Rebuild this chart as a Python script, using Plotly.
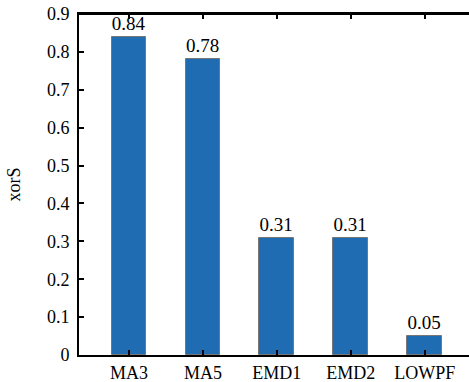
import plotly.graph_objects as go

categories = ["MA3", "MA5", "EMD1", "EMD2", "LOWPF"]
values = [0.84, 0.78, 0.31, 0.31, 0.05]
value_labels = ["0.84", "0.78", "0.31", "0.31", "0.05"]
y_ticks = [0, 0.1, 0.2, 0.3, 0.4, 0.5, 0.6, 0.7, 0.8, 0.9]
y_tick_labels = ["0", "0.1", "0.2", "0.3", "0.4", "0.5", "0.6", "0.7", "0.8", "0.9"]

FAM = "Liberation Serif, Times New Roman, serif"
font = dict(family=FAM, size=18, color="black")
xpos = list(range(len(categories)))
XR = [-0.676, 4.6]

fig = go.Figure()
fig.add_trace(go.Bar(
    x=xpos, y=values,
    width=0.47,
    marker=dict(color="#1f6cb2", line=dict(color="#767676", width=1)),
    text=value_labels, textposition="outside", cliponaxis=False,
    constraintext="none",
    textfont=dict(family=FAM, size=19, color="black"),
))

fig.update_layout(
    width=469, height=382,
    margin=dict(l=79, r=0, t=14, b=27, autoexpand=False),
    plot_bgcolor="white", paper_bgcolor="white",
    font=font, showlegend=False,
    bargap=0,
)
# frame line along the top of the plot area (backup for the mirrored axis line)
fig.add_shape(type="line", xref="paper", yref="paper", x0=0, x1=1, y0=1, y1=1,
              line=dict(color="black", width=2), layer="above")

fig.update_xaxes(
    range=XR,
    tickvals=xpos, ticktext=categories,
    ticks="inside", ticklen=5, tickwidth=1.5, tickcolor="black",
    showline=True, linecolor="black", linewidth=2, mirror="ticks",
    showgrid=False, zeroline=False,
    tickfont=dict(size=18),
)
fig.update_yaxes(
    range=[0, 0.9],
    tickvals=y_ticks, ticktext=y_tick_labels,
    ticks="inside", ticklen=5, tickwidth=1.5, tickcolor="black",
    showline=True, linecolor="black", linewidth=2,
    showgrid=False, zeroline=False,
    ticklabelstandoff=4,
    title=dict(text="xorS", standoff=22, font=dict(size=18)),
    tickfont=dict(size=18),
)
fig.write_html("out.html", config={"displayModeBar": False},
               post_script="document.body.style.margin='0';")
